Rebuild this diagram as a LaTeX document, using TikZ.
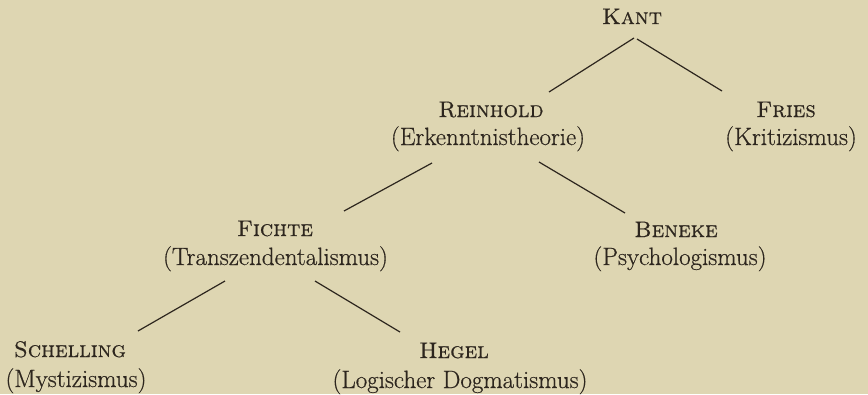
\documentclass[tikz,border=0pt]{standalone}
\usepackage{fontspec}
\setmainfont{Latin Modern Roman}[FakeBold=0.5,
  SmallCapsFont={Latin Modern Roman Caps},SmallCapsFeatures={FakeBold=0.5}]
\begin{document}
\definecolor{paper}{RGB}{222,214,178}
\definecolor{ink}{RGB}{45,38,30}
\begin{tikzpicture}[x=1pt,y=-1pt,
  lbl/.style={anchor=base,inner sep=0pt,text=ink,font=\fontsize{25}{30}\selectfont},
  pname/.style={anchor=base,inner sep=0pt,text=ink,font=\fontsize{22.6}{27}\selectfont\scshape},
  conn/.style={draw=ink,line width=1.2pt}]
\fill[paper] (0,0) rectangle (868,394);
\useasboundingbox (0,0) rectangle (868,394);
\node[pname] (kant) at (632,24) {Kant};
\node[pname] (reinhold) at (491,117) {Reinhold};
\node[lbl] (reinholdsub) at (488,145) {(Erkenntnistheorie)};
\node[pname] (fries) at (786,117) {Fries};
\node[lbl] (friessub) at (791,145) {(Kritizismus)};
\node[pname] (fichte) at (275,236) {Fichte};
\node[lbl] (fichtesub) at (275.5,265) {(Transzendentalismus)};
\node[pname] (beneke) at (676,237) {Beneke};
\node[lbl] (benekesub) at (680,265) {(Psychologismus)};
\node[pname] (schelling) at (70,357) {Schelling};
\node[lbl] (schellingsub) at (76,387) {(Mystizismus)};
\node[pname] (hegel) at (454,358) {Hegel};
\node[lbl] (hegelsub) at (460,388) {(Logischer Dogmatismus)};
\coordinate (kA) at (634,38); \coordinate (rA) at (549,92);
\coordinate (kB) at (637,39); \coordinate (fB) at (722,91);
\coordinate (rC) at (432,163); \coordinate (fiC) at (344,211);
\coordinate (rD) at (539,162); \coordinate (bD) at (625,213);
\coordinate (fiE) at (225,281); \coordinate (sE) at (138,331);
\coordinate (fiF) at (315,281); \coordinate (hF) at (400,332);
\draw[conn] (kA) -- (rA);
\draw[conn] (kB) -- (fB);
\draw[conn] (rC) -- (fiC);
\draw[conn] (rD) -- (bD);
\draw[conn] (fiE) -- (sE);
\draw[conn] (fiF) -- (hF);
\end{tikzpicture}
\end{document}
